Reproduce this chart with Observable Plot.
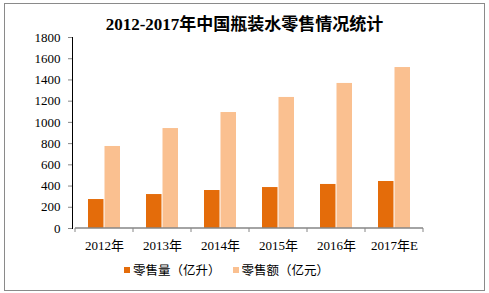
<!DOCTYPE html>
<html>
<head>
<meta charset="utf-8">
<script src="https://cdn.jsdelivr.net/npm/d3@7"></script>
<script src="https://cdn.jsdelivr.net/npm/@observablehq/plot@0.6"></script>
<style>
  body { margin: 0; background: #fff; }
  #wrap { position: relative; width: 489px; height: 293px; overflow: hidden; font-family: "Liberation Serif", "Noto Sans CJK SC", serif; }
  #frame { position: absolute; left: 4px; top: 3px; width: 481px; height: 288px; box-sizing: border-box; border: 1px solid #8a8a8a; }
  #title { position: absolute; top: 10px; left: 0; width: 489px; text-align: center; font-weight: bold; font-size: 17px; color: #000; font-family: "Liberation Serif", "Noto Sans CJK SC", serif; }
  #chart { position: absolute; left: 0; top: 0; }
  #legend { position: absolute; top: 260px; left: 124px; display: flex; font-size: 12.5px; font-family: "Noto Sans CJK SC", sans-serif; color: #000; }
  .item { display: flex; align-items: center; margin-right: 12px; }
  .sw { width: 6px; height: 6px; margin-right: 3px; }
  #chart g[aria-label="y-axis"] line, #chart g[aria-label="y-axis"] path,
  #chart g[aria-label="y-axis tick"] path, #chart g[aria-label="x-axis"] line { stroke: #868686; }
</style>
</head>
<body>
<div id="wrap">
  <div id="frame"></div>
  <div id="chart"></div>
  <div id="title"></div>
  <div id="legend"></div>
</div>
<script>
const titleText = "2012-2017年中国瓶装水零售情况统计";
const years = ["2012年", "2013年", "2014年", "2015年", "2016年", "2017年E"];
const volume = [273, 320, 358, 386, 415, 443];
const revenue = [773, 942, 1093, 1235, 1367, 1517];
const yTicks = [0, 200, 400, 600, 800, 1000, 1200, 1400, 1600, 1800];
const seriesNames = ["零售量（亿升）", "零售额（亿元）"];
const colors = ["#E46C0A", "#FAC090"];

const volData = years.map((y, i) => ({year: y, value: volume[i]}));
const revData = years.map((y, i) => ({year: y, value: revenue[i]}));

const axisColor = "#868686";

function boundaryTicks(index, scales, values, dimensions) {
  const x = scales.x;
  const g = d3.create("svg:g");
  const y0 = dimensions.height - dimensions.marginBottom;
  const bw = x.bandwidth ? x.bandwidth() : (dimensions.width - dimensions.marginLeft - dimensions.marginRight) / years.length;
  const pos = years.map(d => x(d));
  pos.push(pos[pos.length - 1] + bw);
  for (const p of pos) {
    g.append("line").attr("x1", p).attr("x2", p).attr("y1", y0).attr("y2", y0 + 4)
      .attr("stroke", axisColor);
  }
  g.append("line").attr("x1", pos[0]).attr("x2", pos[pos.length - 1]).attr("y1", y0).attr("y2", y0)
    .attr("stroke", axisColor).attr("stroke-width", 1.5);
  return g.node();
}

const chart = Plot.plot({
  width: 489,
  height: 260,
  marginTop: 37,
  marginBottom: 32,
  marginLeft: 72,
  marginRight: 64,
  style: {fontFamily: '"Liberation Serif", "Noto Sans CJK SC", serif', fontSize: "13px", color: "#000", background: "transparent", overflow: "visible"},
  x: {domain: years, padding: 0, label: null, tickSize: 0, tickPadding: 12},
  y: {domain: [0, 1800], ticks: yTicks, tickFormat: d => String(d), label: null, tickSize: 4, tickPadding: 8, line: true},
  marks: [
    Plot.barY(volData, {x: "year", y: "value", fill: colors[0], insetLeft: 13, insetRight: 29.5}),
    Plot.barY(revData, {x: "year", y: "value", fill: colors[1], insetLeft: 29.5, insetRight: 13}),
    boundaryTicks
  ]
});
document.getElementById("chart").appendChild(chart);
document.getElementById("title").textContent = titleText;

const legend = document.getElementById("legend");
seriesNames.forEach((name, i) => {
  const it = document.createElement("div");
  it.className = "item";
  const sw = document.createElement("span");
  sw.className = "sw";
  sw.style.background = colors[i];
  const t = document.createElement("span");
  t.textContent = name;
  it.appendChild(sw); it.appendChild(t);
  legend.appendChild(it);
});
</script>
</body>
</html>
